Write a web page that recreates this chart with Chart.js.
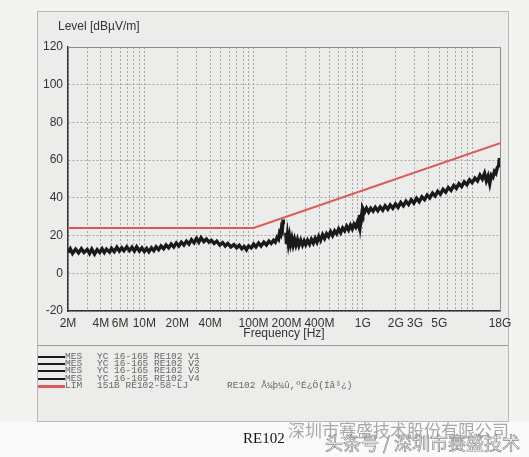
<!DOCTYPE html>
<html>
<head>
<meta charset="utf-8">
<script src="https://cdn.jsdelivr.net/npm/chart.js@4"></script>
<style>
  html, body { margin: 0; padding: 0; }
  body { width: 529px; height: 457px; background: #f3f3f1; position: relative; overflow: hidden;
         font-family: "Liberation Sans", Arial, sans-serif; }
  #moldura { position: absolute; left: 37px; top: 11px; width: 470px; height: 409px;
             border: 1px solid #b8b8b6; background: #ececea; }
  #separador { position: absolute; left: 37px; top: 345px; width: 471px; border-top: 1px solid #9a9a98; }
  #rodape { position: absolute; left: 0; top: 422px; width: 529px; height: 35px; background: #fafafa; }
  #grafico { position: absolute; left: 0; top: 0; }
  #tituloY { position: absolute; left: 58px; top: 19px; font-size: 12px; color: #333; }
  #legenda { position: absolute; left: 38px; top: 353px; width: 460px; height: 40px;
             font-family: "Liberation Mono", monospace; font-size: 9.5px; color: #666; }
  .linha { position: absolute; left: 0; height: 7.2px; width: 460px; }
  .traco { position: absolute; left: 0; top: 3px; width: 27px; height: 2px; background: #1c1c1c; }
  .traco.lim { background: #dc5a5a; height: 3px; }
  .tipo { position: absolute; left: 27px; top: -2px; }
  .desc { position: absolute; left: 59px; top: -2px; }
  .extra { position: absolute; left: 189px; top: -2px; }
  #re102 { position: absolute; left: 243px; top: 430px; font-family: "Liberation Serif", serif; font-size: 15px; color: #111; }
  #marca1 { position: absolute; left: 288px; top: 417px; font-family: "Noto Sans CJK SC", sans-serif;
            font-size: 17px; color: rgba(140,140,140,0.75); }
  #marca2 { position: absolute; left: 325px; top: 429px; font-family: "Noto Sans CJK SC", sans-serif;
            font-size: 18px; color: rgba(255,255,255,0.5); -webkit-text-stroke: 0.7px #8a8a8a; }
</style>
</head>
<body>
<div id="moldura"></div>
<div id="separador"></div>
<div id="rodape"></div>
<canvas id="grafico" width="529" height="457"></canvas>
<div id="tituloY">Level [dBµV/m]</div>

<div id="legenda">
  <div class="linha" style="top:0px"><span class="traco"></span><span class="tipo">MES</span><span class="desc">YC 16-165 RE102 V1</span></div>
  <div class="linha" style="top:7.2px"><span class="traco"></span><span class="tipo">MES</span><span class="desc">YC 16-165 RE102 V2</span></div>
  <div class="linha" style="top:14.4px"><span class="traco"></span><span class="tipo">MES</span><span class="desc">YC 16-165 RE102 V3</span></div>
  <div class="linha" style="top:21.6px"><span class="traco"></span><span class="tipo">MES</span><span class="desc">YC 16-165 RE102 V4</span></div>
  <div class="linha" style="top:28.8px"><span class="traco lim"></span><span class="tipo">LIM</span><span class="desc">151B RE102-58-LJ</span><span class="extra">RE102 Å¼þ¼û,ºÉ¿Ö(Íâ³¿)</span></div>
</div>

<div id="re102">RE102</div>
<div id="marca1">深圳市赛盛技术股份有限公司</div>
<div id="marca2">头条号 / 深圳市赛盛技术</div>

<script>
// ---------- Dados ----------
// limite RE102 (MHz / dBµV/m)
const freqLimite = [2, 100, 18000];
const nivelLimite = [24, 24, 69];

const freqMedicao = [
  2, 2.1, 2.2, 2.35, 2.5, 2.65, 2.8, 3, 3.15, 3.3, 3.5, 3.7, 3.9, 4.1, 4.3, 4.5, 4.8, 5, 5.3, 5.6, 5.9,
  6.2, 6.5, 6.9, 7.3, 7.7, 8.1, 8.5, 9, 9.5, 10, 10.5, 11, 11.6, 12.2, 12.8, 13.5, 14.2, 15, 15.8, 16.7,
  17.6, 18.6, 19.6, 20.7, 21.8, 23, 24.3, 25.6, 27, 28.5, 30, 31.5, 33, 35, 37, 39, 41, 43.5, 46, 49,
  52, 55, 58, 62, 66, 70, 74, 78, 82, 86, 90, 95, 100, 105, 111, 117, 124, 131, 138, 145, 152, 158,
  164, 169, 173, 177, 180, 183, 186, 187, 192,
  197, 200, 204, 208, 213, 218, 224, 230, 237, 244, 252, 260, 270, 280, 290, 300, 312, 325, 338, 352,
  366, 380, 395, 410, 428, 446, 465, 485, 506, 528, 551, 575, 600, 626, 653, 681, 710, 740, 770, 800,
  830, 860, 890, 915, 935, 950, 965, 980, 990, 995,
  1000, 1040, 1080, 1130, 1180, 1240, 1300, 1370, 1440, 1520, 1600, 1690, 1780, 1880, 1990, 2100,
  2220, 2350, 2480, 2620, 2770, 2930, 3100, 3280, 3470, 3670, 3880, 4100, 4340, 4590, 4850, 5130,
  5420, 5730, 6060, 6410, 6780, 7170, 7580, 8010, 8470, 8960, 9470, 10000, 10600, 11200, 11800,
  12400, 13000, 13500, 14000, 14500, 15000, 15500, 16000, 16500, 17000, 17500, 17800, 18000
];
const nivelMedicao = [
  11, 13, 10.5, 12.8, 10.8, 13, 11, 12.6, 10.5, 12.8, 10.2, 12.5, 11, 13, 11, 12.8, 11.2, 13.2, 11.5, 13.8, 11.8,
  13.5, 12, 14, 12, 13.8, 11.8, 14, 11.8, 13.5, 11.5, 13.2, 11.5, 13.5, 12, 14, 12.5, 14.5, 13, 15, 13.5,
  15.5, 14, 16, 14.5, 16.5, 15, 17, 15.5, 17.8, 16.2, 18.5, 16.5, 18.8, 16.8, 18.2, 16.5, 17.5, 15.8, 17, 15,
  16.2, 14.5, 15.8, 14, 15.2, 13.5, 14.8, 13, 14.2, 12.5, 14.5, 13.5, 15.5, 14, 16, 14.5, 16.5, 15, 17, 15.8, 17.5, 16.5,
  19, 18, 21.5, 20.5, 24, 23, 28.5, 26, null,
  21.5, 15.5, 20, 15.8, 19.5, 15.5, 18.5, 15, 18, 15, 17.8, 14.8, 17.5, 15, 17.2, 15.2, 17.5, 15.5, 18, 16,
  18.5, 16.5, 19.5, 17.5, 20.5, 18.5, 21, 19.5, 22, 20, 22.5, 21, 23.5, 21.5, 24, 22.5, 25, 23, 25.5, 23.5,
  26, 24.5, 27, 25, 31, 26, 29, 27, 32.5, 28,
  34.5, 32.5, 34.5, 32.5, 34.5, 33, 35, 33.2, 35.2, 33.5, 35.8, 34, 36.2, 34.5, 36.8, 35,
  37.5, 35.8, 38.2, 36.5, 39, 37.2, 39.8, 38, 40.5, 39, 41.5, 40, 42.5, 41, 43.5, 42,
  44.5, 43, 45.5, 44, 46.5, 45, 47.5, 46, 48.5, 47, 49.5, 48, 50.5, 49, 52,
  50, 53, 49, 51.5, 47.5, 52, 51, 54, 53, 56, 57, 61, 58
];

// marcas do eixo X (MHz) e rótulos
const gradeX = [2, 3, 4, 5, 6, 7, 8, 9, 10, 20, 30, 40, 50, 60, 70, 80, 90, 100, 200, 300, 400, 500,
  600, 700, 800, 900, 1000, 2000, 3000, 4000, 5000, 6000, 7000, 8000, 9000, 10000, 18000];
const rotulosX = { 2: '2M', 4: '4M', 6: '6M', 10: '10M', 20: '20M', 40: '40M', 100: '100M', 200: '200M',
  400: '400M', 1000: '1G', 2000: '2G', 3000: '3G', 5000: '5G', 18000: '18G' };

// ---------- Gráfico ----------
const pontos = (fs, ns) => fs.map((f, i) => ({ x: f, y: ns[i] }));

// contorno cinza em cima e à direita da área
const bordaArea = {
  id: 'bordaArea',
  afterDraw(chart) {
    const { ctx, chartArea: a } = chart;
    ctx.save();
    ctx.strokeStyle = '#8c8c8c';
    ctx.lineWidth = 1;
    ctx.beginPath();
    ctx.moveTo(a.left, a.top + 0.5);
    ctx.lineTo(a.right + 0.5, a.top + 0.5);
    ctx.lineTo(a.right + 0.5, a.bottom);
    ctx.stroke();
    ctx.restore();
  }
};

const ctx = document.getElementById('grafico').getContext('2d');
new Chart(ctx, {
  type: 'line',
  data: {
    datasets: [
      { label: 'MES', data: pontos(freqMedicao, nivelMedicao), borderColor: '#1a1a1a', borderWidth: 3.4,
        pointRadius: 0, spanGaps: false, tension: 0 },
      { label: 'LIM', data: pontos(freqLimite, nivelLimite), borderColor: '#dc5a5a', borderWidth: 2,
        pointRadius: 0, tension: 0 }
    ]
  },
  options: {
    responsive: false,
    animation: false,
    layout: { padding: { left: 28, top: 47, right: 29, bottom: 116 } },
    plugins: { legend: { display: false }, tooltip: { enabled: false } },
    scales: {
      x: {
        type: 'logarithmic',
        min: 2, max: 18000,
        afterBuildTicks: s => { s.ticks = gradeX.map(v => ({ value: v })); },
        afterFit: s => { s.height = 30; },
        ticks: {
          autoSkip: false, maxRotation: 0, padding: 5, color: '#333',
          font: { size: 12, family: 'Liberation Sans' },
          callback: v => rotulosX[v] || ''
        },
        grid: { color: '#a6a6a6', lineWidth: 1, drawTicks: false },
        border: { color: '#333', width: 1.5, dash: [2, 2] },
        title: { display: true, text: 'Frequency [Hz]', color: '#333',
                 font: { size: 12, family: 'Liberation Sans' }, padding: { top: 1, bottom: 0 } }
      },
      y: {
        min: -20, max: 120,
        afterFit: s => { s.width = 40; },
        ticks: { stepSize: 20, padding: 5, color: '#333', font: { size: 12, family: 'Liberation Sans' } },
        grid: { color: '#a8a8a8', lineWidth: 1, drawTicks: false },
        border: { color: '#333', width: 1.5, dash: [2, 2] }
      }
    }
  },
  plugins: [bordaArea]
});
</script>
</body>
</html>
